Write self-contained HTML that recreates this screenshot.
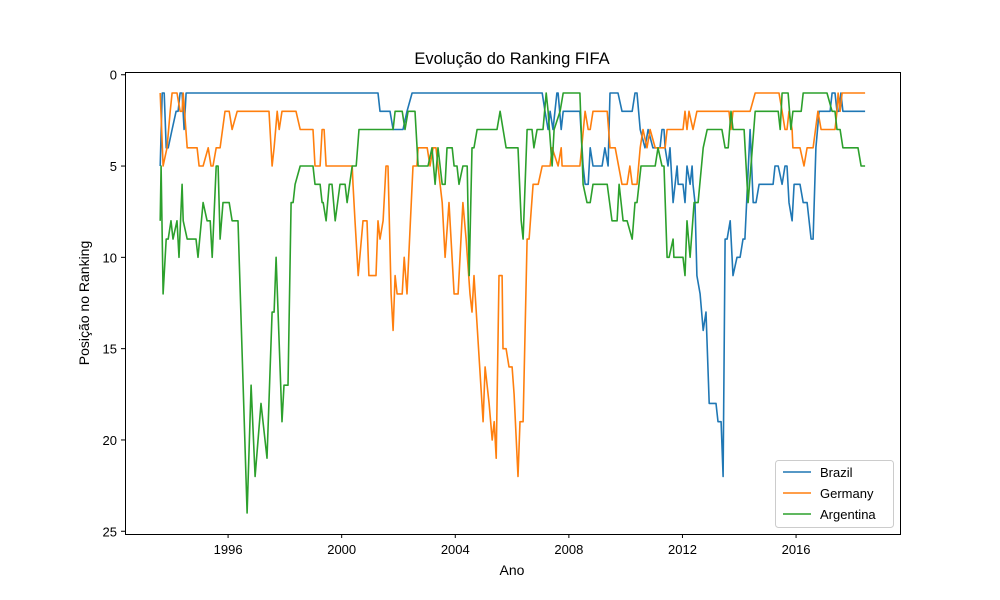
<!DOCTYPE html>
<html><head><meta charset="utf-8"><style>
body{margin:0;background:#fff}
svg{display:block;font-family:"Liberation Sans","DejaVu Sans",sans-serif}
</style></head><body>
<svg id="chart" width="1000" height="600" xmlns="http://www.w3.org/2000/svg">
<rect width="1000" height="600" fill="#fff"/>
<text x="512" y="64" text-anchor="middle" font-size="16.5" fill="#000">Evolução do Ranking FIFA</text>
<text x="512" y="575" text-anchor="middle" font-size="14" fill="#000">Ano</text>
<text transform="translate(89,303) rotate(-90)" text-anchor="middle" font-size="14" fill="#000">Posição no Ranking</text>
<g id="ticks"></g>
<g id="series"></g>
<rect x="125.5" y="72.5" width="775" height="462" fill="none" stroke="#000" stroke-width="1"/>
<g id="legend">
<rect x="775.5" y="460.5" width="118" height="67" rx="3" fill="#fff" fill-opacity="0.8" stroke="#ccc"/>
</g>
</svg>
<script>
const xTicks=[1996,2000,2004,2008,2012,2016];
const yTicks=[0,5,10,15,20,25];
const seriesNames=["Brazil","Germany","Argentina"];
const seriesColors=["#1f77b4","#ff7f0e","#2ca02c"];
const brazilYears=[1993.61,1993.68,1993.75,1993.82,1993.89,1994.03,1994.17,1994.24,1994.31,1994.38,1994.45,1994.52,2001.28,2001.35,2001.70,2001.81,2002.16,2002.30,2002.48,2007.06,2007.16,2007.27,2007.34,2007.44,2007.58,2007.62,2007.73,2007.80,2008.39,2008.50,2008.57,2008.68,2008.75,2008.85,2009.17,2009.27,2009.38,2009.45,2009.73,2009.87,2010.23,2010.33,2010.40,2010.51,2010.68,2010.79,2010.96,2011.21,2011.28,2011.35,2011.39,2011.49,2011.56,2011.67,2011.81,2011.85,2012.02,2012.09,2012.16,2012.27,2012.34,2012.37,2012.44,2012.51,2012.62,2012.73,2012.83,2012.94,2013.18,2013.25,2013.36,2013.43,2013.50,2013.57,2013.68,2013.78,2013.92,2014.03,2014.13,2014.20,2014.38,2014.49,2014.59,2014.70,2015.19,2015.26,2015.37,2015.51,2015.61,2015.68,2015.75,2015.86,2015.93,2016.14,2016.25,2016.39,2016.53,2016.60,2016.70,2016.81,2017.20,2017.27,2017.37,2017.44,2017.51,2017.58,2017.65,2018.43];
const brazilRanks=[5,1,1,4,4,3,2,2,1,1,3,1,1,2,2,3,3,2,1,1,2,3,2,3,1,1,3,2,2,5,6,6,4,5,5,4,5,1,1,2,2,1,1,3,4,3,4,4,3,3,4,5,4,7,5,6,6,7,5,6,5,6,7,11,12,14,13,18,18,19,19,22,9,9,8,11,10,10,9,9,3,7,7,6,6,5,5,6,5,5,7,8,6,6,7,7,9,9,4,2,2,1,1,2,2,1,2,2];
const germanyYears=[1993.61,1993.71,1993.85,1993.96,1994.03,1994.20,1994.31,1994.38,1994.42,1994.56,1994.91,1994.98,1995.12,1995.30,1995.40,1995.47,1995.58,1995.72,1995.89,1996.04,1996.14,1996.32,1997.44,1997.55,1997.62,1997.73,1997.80,1997.90,1998.39,1998.54,1998.99,1999.06,1999.24,1999.31,1999.38,1999.45,2000.37,2000.40,2000.47,2000.58,2000.75,2000.89,2000.96,2001.21,2001.28,2001.35,2001.46,2001.56,2001.63,2001.74,2001.81,2001.88,2001.95,2002.13,2002.20,2002.30,2002.51,2002.65,2002.69,2003.01,2003.11,2003.22,2003.32,2003.39,2003.54,2003.64,2003.78,2003.96,2004.10,2004.27,2004.38,2004.52,2004.59,2004.66,2004.98,2005.05,2005.19,2005.30,2005.37,2005.44,2005.54,2005.65,2005.68,2005.79,2005.89,2006.00,2006.07,2006.21,2006.28,2006.39,2006.53,2006.60,2006.74,2006.92,2007.06,2007.34,2007.41,2007.62,2007.73,2007.76,2008.39,2008.57,2008.68,2008.75,2008.85,2009.35,2009.45,2009.63,2009.87,2010.05,2010.15,2010.23,2010.40,2010.51,2010.61,2010.75,2010.86,2011.04,2011.39,2011.46,2012.02,2012.09,2012.16,2012.23,2012.37,2012.51,2013.64,2013.71,2013.78,2014.38,2014.56,2015.40,2015.51,2015.61,2015.68,2015.75,2015.86,2015.89,2016.14,2016.28,2016.39,2016.60,2016.77,2016.88,2017.37,2017.44,2017.48,2017.55,2017.62,2018.43];
const germanyRanks=[1,5,4,2,1,1,2,2,1,4,4,5,5,4,5,5,4,4,2,2,3,2,2,5,4,2,3,2,2,3,3,5,5,3,3,5,5,6,8,11,8,8,11,11,8,9,8,5,5,12,14,11,12,12,10,12,5,5,4,4,5,4,4,5,7,10,7,12,12,7,9,12,13,11,19,16,18,20,19,21,11,11,15,15,16,16,17.5,22,19,19,9,9,6,6,5,5,4,5,4,5,5,2,3,3,2,2,4,4,6,6,5,6,6,4,3,4,3,4,4,3,3,2,3,2,3,2,2,3,2,2,1,1,2,3,3,2,3,4,4,5,4,4,2,3,3,2,1,2,1,1];
const argentinaYears=[1993.61,1993.64,1993.71,1993.82,1993.89,1993.99,1994.06,1994.20,1994.27,1994.38,1994.42,1994.56,1994.87,1994.94,1995.12,1995.26,1995.37,1995.44,1995.58,1995.65,1995.72,1995.82,1996.04,1996.14,1996.35,1996.67,1996.81,1996.95,1997.16,1997.23,1997.37,1997.55,1997.62,1997.69,1997.90,1997.97,1998.11,1998.22,1998.29,1998.36,1998.54,1998.99,1999.06,1999.24,1999.31,1999.35,1999.45,1999.56,1999.66,1999.77,1999.94,2000.12,2000.19,2000.37,2000.51,2000.61,2001.81,2001.88,2002.13,2002.23,2002.34,2002.58,2002.69,2003.04,2003.18,2003.29,2003.39,2003.54,2003.64,2003.71,2003.89,2003.96,2004.06,2004.13,2004.27,2004.42,2004.49,2004.59,2004.66,2004.77,2005.47,2005.58,2005.79,2006.21,2006.32,2006.39,2006.53,2006.70,2006.77,2006.88,2007.09,2007.20,2007.27,2007.41,2007.48,2007.69,2007.80,2008.39,2008.50,2008.64,2008.75,2008.85,2009.35,2009.52,2009.70,2009.77,2009.91,2010.05,2010.23,2010.33,2010.40,2010.54,2011.04,2011.14,2011.28,2011.35,2011.46,2011.53,2011.67,2011.70,2012.02,2012.09,2012.16,2012.27,2012.41,2012.55,2012.73,2012.87,2013.39,2013.50,2013.61,2013.71,2013.78,2014.17,2014.31,2014.56,2015.37,2015.44,2015.51,2015.72,2015.82,2015.89,2016.18,2016.25,2017.09,2017.27,2017.37,2017.44,2017.55,2017.65,2018.18,2018.29,2018.43];
const argentinaRanks=[8,5,12,9,9,8,9,8,10,6,8,9,9,10,7,8,8,10,5,5,9,7,7,8,8,24,17,22,18,19,21,13,13,10,19,17,17,7,7,6,5,5,6,6,7,7,8,6,6,8,6,6,7,5,5,3,3,2,2,3,2,2,5,5,4,6,4,6,6,4,4,5,5,6,5,5,11,4,4,3,3,2,4,4,8,9,3,3,4,3,3,1,2,5,3,2,1,1,6,7,7,6,6,8,8,6,8,8,9,7,7,5,5,4,5,5,10,10,9,10,10,11,8,10,7,7,4,3,3,4,4,2,3,3,7,2,2,3,1,1,3,2,2,1,1,2,2,3,3,4,4,5,5];

const svgNS="http://www.w3.org/2000/svg";
const L=125,R=900,T=72,B=534;
const xMin=1992.37,xMax=2019.66,yMin=-0.15,yMax=25.15;
function xs(v){return L+(v-xMin)/(xMax-xMin)*(R-L);}
function ys(v){return T+(v-yMin)/(yMax-yMin)*(B-T);}
function mk(tag,attrs,parent){const e=document.createElementNS(svgNS,tag);for(const k in attrs)e.setAttribute(k,attrs[k]);parent.appendChild(e);return e;}
const tg=document.getElementById('ticks');
xTicks.forEach(t=>{
  const x=xs(t);
  const ln=mk('line',{x1:x,x2:x,y1:B,y2:B+4,stroke:'#000'},tg);
  
  
  const tx=mk('text',{x:x,y:B+20,'text-anchor':'middle','font-size':'13',fill:'#000'},tg);
  tx.textContent=t;
  
  
});
yTicks.forEach(t=>{
  const y=ys(t);
  const ln=mk('line',{x1:L-4,x2:L,y1:y,y2:y,stroke:'#000'},tg);
  
  
  const tx=mk('text',{x:L-8,y:y+5,'text-anchor':'end','font-size':'13',fill:'#000'},tg);
  tx.textContent=t;
  
  
});
const sg=document.getElementById('series');
const data=[[brazilYears,brazilRanks],[germanyYears,germanyRanks],[argentinaYears,argentinaRanks]];
data.forEach((d,i)=>{
  const pts=d[0].map((yr,j)=>xs(yr).toFixed(1)+','+ys(d[1][j]).toFixed(1)).join(' ');
  const pl=mk('polyline',{points:pts,fill:'none',stroke:seriesColors[i],'stroke-width':'1.6','stroke-linejoin':'round'},sg);
  
  
});
const lg=document.getElementById('legend');
seriesNames.forEach((n,i)=>{
  const y=472+i*21;
  const ln=mk('line',{x1:783,x2:811,y1:y,y2:y,stroke:seriesColors[i],'stroke-width':'1.6'},lg);
  
  
  const tx=mk('text',{x:820,y:y+5,'font-size':'13',fill:'#000'},lg);
  tx.textContent=n;
  
  
});
</script>
</body></html>
